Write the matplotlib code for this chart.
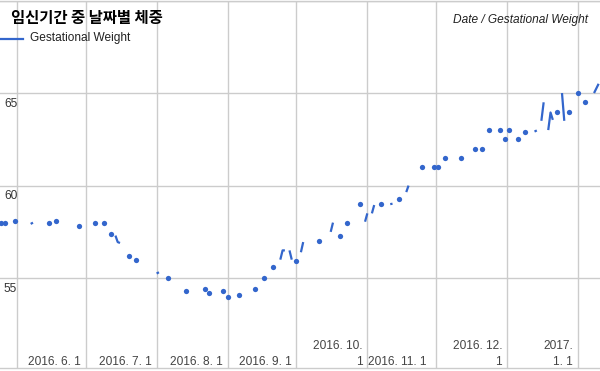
import matplotlib
matplotlib.use('Agg')
import matplotlib.pyplot as plt
from matplotlib.lines import Line2D
import numpy as np
import pandas as pd

plt.rcParams['font.family'] = ['Liberation Sans', 'Noto Sans CJK KR', 'DejaVu Sans']

# recorded days (gaps = no measurement)
dates = ['2016-05-25', '2016-05-27', '2016-05-31', '2016-06-07', '2016-06-08',
         '2016-06-15', '2016-06-18', '2016-06-28', '2016-07-05', '2016-07-09',
         '2016-07-12', '2016-07-14', '2016-07-15', '2016-07-16', '2016-07-20',
         '2016-07-23', '2016-08-01', '2016-08-02', '2016-08-06', '2016-08-14',
         '2016-08-22', '2016-08-24', '2016-08-30', '2016-09-01', '2016-09-06',
         '2016-09-13', '2016-09-17', '2016-09-21', '2016-09-24', '2016-09-25',
         '2016-09-26', '2016-09-28', '2016-09-29', '2016-10-01', '2016-10-03',
         '2016-10-04', '2016-10-11', '2016-10-16', '2016-10-17', '2016-10-20',
         '2016-10-23', '2016-10-29', '2016-10-31', '2016-11-01', '2016-11-03',
         '2016-11-04', '2016-11-07', '2016-11-11', '2016-11-12', '2016-11-15',
         '2016-11-18', '2016-11-19', '2016-11-25', '2016-11-30', '2016-12-02',
         '2016-12-05', '2016-12-12', '2016-12-18', '2016-12-21', '2016-12-24',
         '2016-12-29', '2016-12-31', '2017-01-02', '2017-01-06', '2017-01-09',
         '2017-01-13', '2017-01-14', '2017-01-16', '2017-01-17', '2017-01-19',
         '2017-01-20', '2017-01-21', '2017-01-23', '2017-01-25', '2017-01-26',
         '2017-01-28', '2017-02-01', '2017-02-04', '2017-02-08', '2017-02-09',
         '2017-02-10']
weights = [58.0, 58.0, 58.1, 57.93, 58.0,
           58.0, 58.1, 57.8, 58.0, 58.0,
           57.4, 57.3, 56.95, 56.9, 56.2,
           56.0, 55.25, 55.32, 55.0, 54.3,
           54.4, 54.2, 54.3, 54.0, 54.1,
           54.4, 55.0, 55.6, 56.0, 56.5,
           56.5, 56.5, 56.0, 55.9, 56.4,
           56.95, 57.0, 57.5, 58.0, 57.3,
           58.0, 59.0, 58.05, 58.5, 58.5,
           58.95, 59.0, 59.0, 59.02, 59.3,
           59.65, 60.0, 61.0, 61.0, 61.0,
           61.5, 61.5, 62.0, 62.0, 63.0,
           63.0, 62.5, 63.0, 62.5, 62.9,
           62.92, 62.98, 63.5, 64.5, 63.0,
           63.95, 63.55, 64.0, 65.0, 63.5,
           64.0, 65.0, 64.5, 65.0, 65.25,
           65.5]

xlabels = ['2016. 6. 1', '2016. 7. 1', '2016. 8. 1', '2016. 9. 1',
           '2016. 10.\n1', '2016. 11. 1', '2016. 12.\n1', '2017.\n1. 1']
yticks = [55, 60, 65]

blue = '#3366cc'

series = pd.Series(weights, index=pd.to_datetime(dates))
daily = series.reindex(pd.date_range(series.index.min(), series.index.max(), freq='D'))
vals = daily.values
prev = np.r_[np.nan, vals[:-1]]
nxt = np.r_[vals[1:], np.nan]
lonely = ~np.isnan(vals) & np.isnan(prev) & np.isnan(nxt)

fig = plt.figure(figsize=(6, 3.71), dpi=100)
ax = fig.add_axes([0, 2.7 / 371, 1, 367.8 / 371])

ax.plot(daily.index, vals, color=blue, lw=1.6, solid_capstyle='butt')
ax.plot(daily.index[lonely], vals[lonely], 'o', color=blue, ms=3.8, mew=0)

jun1 = pd.Timestamp('2016-06-01')
ax.set_xlim(jun1 - pd.Timedelta(days=7.4), jun1 + pd.Timedelta(days=254.6))
ax.set_ylim(50.13, 70)

months = pd.date_range('2016-06-01', '2017-02-01', freq='MS')
ax.set_xticks(months)
ax.set_yticks(yticks + [70])
ax.grid(color='#cccccc', lw=1)
ax.set_axisbelow(True)
ax.tick_params(length=0, labelbottom=False, labelleft=False)
for s in ['left', 'right']:
    ax.spines[s].set_visible(False)
for s in ['top', 'bottom']:
    ax.spines[s].set_color('#cccccc')
    ax.spines[s].set_linewidth(1)

for i, lab in enumerate(xlabels):
    dx = -10 if lab == '2016. 11. 1' else -5
    ax.annotate(lab, xy=(months[i + 1], 0), xycoords=('data', 'axes fraction'),
                xytext=(dx, 0), textcoords='offset pixels', ha='right', va='bottom',
                multialignment='right', linespacing=1.45, fontsize=8.6, color='#444444')

for v in yticks:
    ax.annotate(str(v), xy=(0, v), xycoords=('axes fraction', 'data'),
                xytext=(4, -13.5), textcoords='offset pixels', ha='left',
                va='baseline', fontsize=8.6, color='#333333')

fig.text(11 / 600, 1 - 18.5 / 371, '임신기간 중 날짜별 체중', family=['Noto Sans CJK KR'],
         fontsize=11.1, weight='bold', color='#000000', va='center', ha='left')
fig.text(588 / 600, 1 - 20 / 371, 'Date / Gestational Weight', fontsize=8.6,
         style='italic', color='#222222', va='center', ha='right')
fig.add_artist(Line2D([0, 23 / 600], [1 - 39 / 371] * 2, color=blue, lw=1.6))
fig.text(29.5 / 600, 1 - 38.5 / 371, 'Gestational Weight', fontsize=8.6,
         color='#222222', va='center', ha='left')

fig.savefig('out.png', dpi=100)
